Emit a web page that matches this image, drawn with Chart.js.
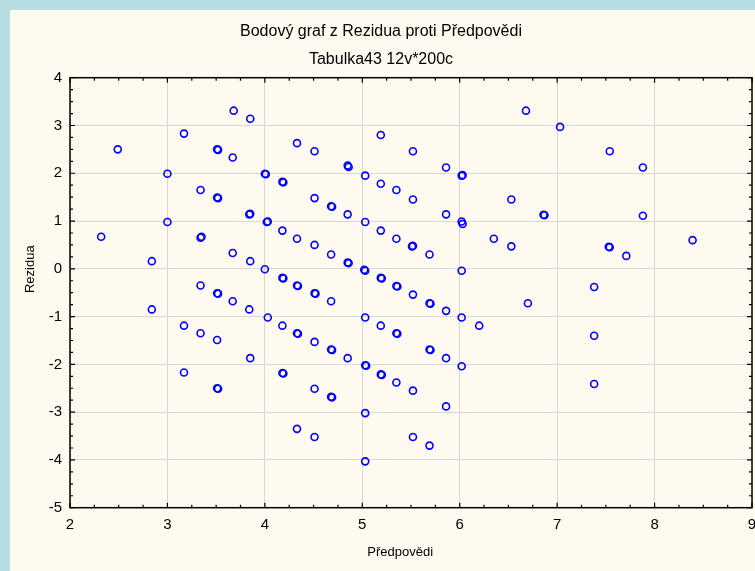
<!DOCTYPE html>
<html>
<head>
<meta charset="utf-8">
<script src="https://cdn.jsdelivr.net/npm/chart.js@4/dist/chart.umd.min.js"></script>
<style>
  html, body { margin: 0; padding: 0; width: 755px; height: 571px; overflow: hidden; background: #b7dde2; }
  #panel { position: absolute; left: 10px; top: 10px; width: 760px; height: 561px; background: #fffaef; }
</style>
</head>
<body>
<div id="panel"><canvas id="chart" width="760" height="561"></canvas></div>
<script>
// Predicted values (x) and residuals (y).
// Repeated pairs are points that sit almost on top of each other.
const predicted = [
    2.32, 2.49, 2.84, 2.84, 3.00, 3.00, 3.17, 3.17, 3.17,
    3.34, 3.34, 3.35, 3.34, 3.34,
    3.51, 3.52, 3.51, 3.52, 3.51, 3.52, 3.51, 3.51, 3.52,
    3.67, 3.67, 3.67, 3.68,
    3.85, 3.84, 3.85, 3.85, 3.84, 3.85,
    4.00, 4.01, 4.02, 4.03, 4.00, 4.03,
    4.18, 4.19, 4.18, 4.18, 4.19, 4.18, 4.18, 4.19,
    4.33, 4.33, 4.33, 4.34, 4.33, 4.34, 4.33,
    4.51, 4.51, 4.51, 4.51, 4.52, 4.51, 4.51, 4.51,
    4.68, 4.69, 4.68, 4.68, 4.68, 4.69, 4.68, 4.69,
    4.85, 4.86, 4.85, 4.85, 4.86, 4.85,
    5.03, 5.03, 5.02, 5.03, 5.03, 5.03, 5.04, 5.03, 5.03,
    5.19, 5.19, 5.19, 5.19, 5.20, 5.19, 5.19, 5.20,
    5.35, 5.35, 5.35, 5.36, 5.35, 5.36, 5.35,
    5.52, 5.52, 5.51, 5.52, 5.52, 5.52, 5.52,
    5.69, 5.69, 5.70, 5.69, 5.70, 5.69,
    5.86, 5.86, 5.86, 5.86, 5.86,
    6.02, 6.03, 6.02, 6.03, 6.02, 6.02, 6.02,
    6.20, 6.35, 6.53, 6.53, 6.68, 6.70, 6.86, 6.87, 7.03,
    7.38, 7.38, 7.38, 7.54, 7.53, 7.54, 7.71, 7.88, 7.88, 8.39
];
const residuals = [
    0.67, 2.50, 0.16, -0.85, 1.99, 0.98, 2.83, -1.19, -2.17,
    1.65, 0.65, 0.67, -0.35, -1.35,
    2.50, 2.49, 1.49, 1.48, -0.51, -0.52, -1.49, -2.50, -2.51,
    2.33, 0.33, -0.68, 3.31,
    3.14, 1.14, 1.15, 0.16, -0.85, -1.87,
    1.99, 1.98, 0.98, 0.99, -0.01, -1.02,
    1.82, 1.81, 0.80, -0.19, -0.20, -1.19, -2.18, -2.19,
    2.63, 0.63, -0.35, -0.36, -1.35, -1.36, -3.35,
    2.46, 1.48, 0.50, -0.51, -0.52, -1.53, -2.51, -3.52,
    1.31, 1.30, 0.30, -0.68, -1.69, -1.70, -2.68, -2.69,
    2.16, 2.13, 1.14, 0.13, 0.12, -1.87,
    1.95, 0.98, -0.02, -0.04, -1.02, -2.02, -2.03, -3.02, -4.03,
    2.80, 1.78, 0.80, -0.19, -0.20, -1.19, -2.21, -2.22,
    1.65, 0.63, -0.36, -0.37, -1.35, -1.36, -2.38,
    2.46, 1.45, 0.47, 0.48, -0.54, -2.55, -3.52,
    0.30, -0.72, -0.73, -1.69, -1.70, -3.70,
    2.12, 1.14, -0.88, -1.87, -2.88,
    1.95, 1.96, 0.99, 0.94, -0.04, -1.02, -2.04,
    -1.19, 0.63, 1.45, 0.47, 3.31, -0.72, 1.13, 1.12, 2.97,
    -0.38, -1.40, -2.41, 2.46, 0.46, 0.45, 0.27, 2.12, 1.11, 0.60
];

const xTicks = [2, 3, 4, 5, 6, 7, 8, 9];
const yTicks = [-5, -4, -3, -2, -1, 0, 1, 2, 3, 4];

const chartTitle = "Bodový graf z Rezidua proti Předpovědi";
const chartSubtitle = "Tabulka43 12v*200c";
const xLabel = "Předpovědi";
const yLabel = "Rezidua";

const fontFamily = "'Liberation Sans', Arial, sans-serif";

// the original sets its axis titles a little off the middle of the axis
const xLabelPad = "      ";
const yLabelPad = "             ";

// frame round the plot with small inward ticks, like the original
const frameTicks = {
    id: "frameTicks",
    afterDraw(chart) {
        const { ctx, chartArea: a, scales: { x, y } } = chart;
        ctx.save();
        ctx.strokeStyle = "#000";
        ctx.lineWidth = 1.5;
        ctx.strokeRect(a.left, a.top, a.right - a.left, a.bottom - a.top);

        ctx.lineWidth = 1.2;
        ctx.beginPath();
        for (let v = xTicks[0]; v <= xTicks[xTicks.length - 1] + 1e-9; v += 0.25) {
            const px = x.getPixelForValue(v);
            const len = Number.isInteger(v) ? 5 : 3;
            ctx.moveTo(px, a.bottom); ctx.lineTo(px, a.bottom - len);
            ctx.moveTo(px, a.top); ctx.lineTo(px, a.top + len);
        }
        for (let v = yTicks[0]; v <= yTicks[yTicks.length - 1] + 1e-9; v += 0.25) {
            const py = y.getPixelForValue(v);
            const len = Number.isInteger(v) ? 5 : 3;
            ctx.moveTo(a.left, py); ctx.lineTo(a.left + len, py);
            ctx.moveTo(a.right, py); ctx.lineTo(a.right - len, py);
        }
        ctx.stroke();
        ctx.restore();
    }
};

const points = predicted.map((v, i) => ({ x: v, y: residuals[i] }));

new Chart(document.getElementById("chart"), {
    type: "scatter",
    data: {
        datasets: [{
            data: points,
            pointStyle: "circle",
            pointRadius: 3.5,
            pointBorderWidth: 1.6,
            pointBorderColor: "#0000ff",
            pointBackgroundColor: "rgba(0,0,0,0)"
        }]
    },
    options: {
        responsive: false,
        animation: false,
        layout: { padding: { left: 0, right: 18, top: 0, bottom: 0 } },
        plugins: {
            legend: { display: false },
            tooltip: { enabled: false },
            title: {
                display: true,
                text: chartTitle,
                color: "#000",
                font: { family: fontFamily, size: 16, weight: "normal" },
                padding: { top: 11.7, bottom: 5 }
            },
            subtitle: {
                display: true,
                text: chartSubtitle,
                color: "#000",
                font: { family: fontFamily, size: 16, weight: "normal" },
                padding: { top: 4, bottom: 8.6 }
            }
        },
        scales: {
            x: {
                type: "linear",
                min: xTicks[0],
                max: xTicks[xTicks.length - 1],
                afterBuildTicks: s => { s.ticks = xTicks.map(v => ({ value: v })); },
                afterFit: s => { s.height = 63.3; },
                ticks: {
                    color: "#000",
                    font: { family: fontFamily, size: 15 },
                    padding: 8,
                    maxRotation: 0
                },
                grid: { color: "#d8d8d8", lineWidth: 1, drawTicks: false },
                border: { display: false },
                title: {
                    display: true,
                    text: xLabel + xLabelPad,
                    color: "#000",
                    font: { family: fontFamily, size: 13 },
                    padding: { top: 0, bottom: 11 }
                }
            },
            y: {
                type: "linear",
                min: yTicks[0],
                max: yTicks[yTicks.length - 1],
                afterBuildTicks: s => { s.ticks = yTicks.map(v => ({ value: v })); },
                afterFit: s => { s.width = 60; },
                ticks: {
                    color: "#000",
                    font: { family: fontFamily, size: 15 },
                    padding: 8
                },
                grid: { color: "#d8d8d8", lineWidth: 1, drawTicks: false },
                border: { display: false },
                title: {
                    display: true,
                    text: yLabelPad + yLabel,
                    color: "#000",
                    font: { family: fontFamily, size: 13 },
                    padding: { top: 13, bottom: 0 }
                }
            }
        }
    },
    plugins: [frameTicks]
});
</script>
</body>
</html>
